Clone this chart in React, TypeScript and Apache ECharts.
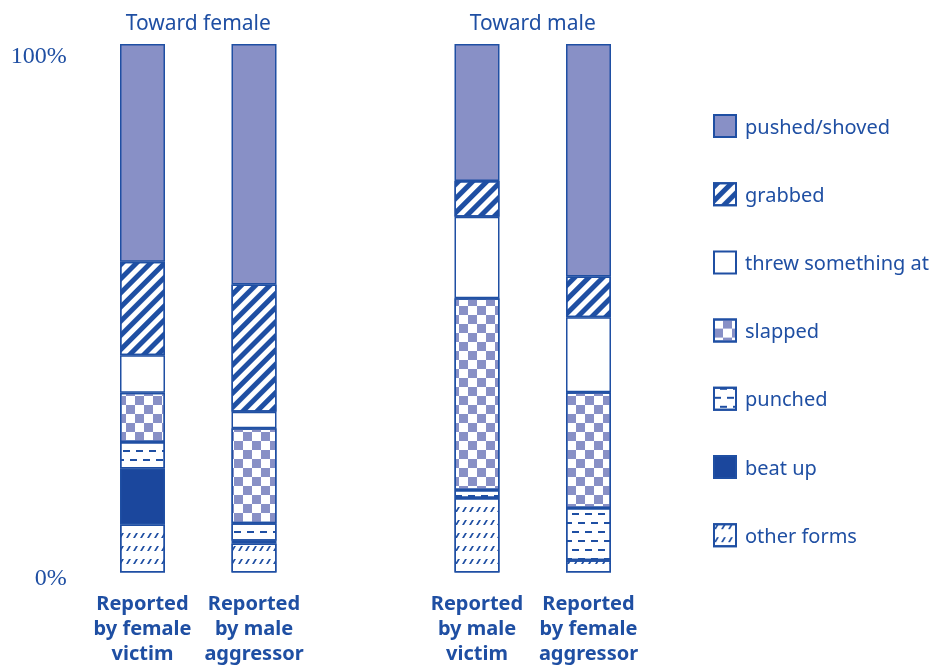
import React, { useEffect, useRef } from 'react';
import * as echarts from 'echarts';

const categories = [
  'Reported\nby female\nvictim',
  'Reported\nby male\naggressor',
  '',
  'Reported\nby male\nvictim',
  'Reported\nby female\naggressor',
];
const groupTitles = ['Toward female', 'Toward male'];
const legendNames = ['pushed/shoved', 'grabbed', 'threw something at', 'slapped', 'punched', 'beat up', 'other forms'];

// values in % (bottom to top stacking order is the reverse of legend order)
const pushed = [41.2, 45.5, null, 25.9, 44.0];
const grabbed = [17.7, 24.1, null, 6.8, 7.7];
const threw = [7.1, 3.1, null, 15.4, 14.2];
const slapped = [9.3, 18.0, null, 36.3, 21.9];
const punched = [5.0, 3.3, null, 1.5, 9.9];
const beatUp = [10.6, 0.5, null, null, null];
const otherForms = [9.1, 5.5, null, 14.1, 2.3];

const yTicks = [0, 100];
const yTickLabels = ['0%', '100%'];

const BLUE = '#1f4fa3';
const DARK = '#1b479d';
const LAV = '#8890c6';
const WHITE = '#ffffff';
const SANS = '"Noto Sans", "Open Sans", sans-serif';

export default function App() {
  const ref = useRef<HTMLDivElement>(null);
  useEffect(() => {
    if (!ref.current) return;
    const chart = echarts.init(ref.current, undefined, { renderer: 'svg' });
    const base = {
      type: 'bar',
      stack: 'total',
      barWidth: 45,
    };
    const border = { borderColor: BLUE, borderWidth: 1.5 };
    const series: any[] = [
      {
        ...base,
        name: 'other forms',
        data: otherForms,
        itemStyle: {
          ...border,
          color: WHITE,
          decal: {
            symbol: 'path://M0,4 L1.6,4 L4,0 L2.4,0 Z',
            symbolSize: 1,
            dashArrayX: [5, 1.5],
            dashArrayY: [5, 8],
            color: BLUE,
          },
        },
      },
      { ...base, name: 'beat up', data: beatUp, itemStyle: { ...border, color: DARK } },
      {
        ...base,
        name: 'punched',
        data: punched,
        itemStyle: {
          ...border,
          color: WHITE,
          decal: {
            symbol: 'rect',
            symbolSize: 1,
            dashArrayX: [[7, 6], [0, 6, 7, 0]],
            dashArrayY: [2, 6.5],
            color: BLUE,
          },
        },
      },
      {
        ...base,
        name: 'slapped',
        data: slapped,
        itemStyle: {
          ...border,
          color: WHITE,
          decal: {
            symbol: 'rect',
            symbolSize: 1,
            dashArrayX: [[9, 9], [0, 9, 9, 0]],
            dashArrayY: [9, 0],
            color: LAV,
          },
        },
      },
      { ...base, name: 'threw something at', data: threw, itemStyle: { ...border, color: WHITE } },
      {
        ...base,
        name: 'grabbed',
        data: grabbed,
        itemStyle: {
          ...border,
          color: WHITE,
          decal: {
            symbol: 'rect',
            symbolSize: 1,
            dashArrayX: [1, 0],
            dashArrayY: [5, 4.5],
            rotation: -Math.PI / 4,
            color: BLUE,
          },
        },
      },
      { ...base, name: 'pushed/shoved', data: pushed, itemStyle: { ...border, color: LAV } },
    ];

    chart.setOption({
      animation: false,
      grid: {
        left: 86.75,
        right: 297.75,
        top: 44,
        bottom: 94.5,
        containLabel: false,
        outerBoundsMode: 'none',
      },
      legend: {
        data: legendNames,
        orient: 'vertical',
        left: 708,
        top: 109,
        icon: 'rect',
        itemWidth: 22,
        itemHeight: 22,
        itemGap: 44.2,
        selectedMode: false,
        textStyle: {
          color: BLUE,
          fontFamily: SANS,
          fontSize: 20,
          lineHeight: 22,
          padding: [0, 0, 0, 4],
        },
      },
      xAxis: {
        type: 'category',
        data: categories,
        axisLine: { show: false },
        axisTick: { show: false },
        axisLabel: {
          interval: 0,
          margin: 17,
          color: BLUE,
          fontFamily: SANS,
          fontWeight: 'bold',
          fontSize: 20,
          lineHeight: 25,
          align: 'center',
        },
      },
      yAxis: {
        type: 'value',
        min: 0,
        max: 100,
        interval: 100,
        axisLine: { show: false },
        axisTick: { show: false },
        splitLine: { show: false },
        axisLabel: {
          margin: 20,
          formatter: (v: number) => {
            const idx = yTicks.indexOf(v);
            const label = idx >= 0 ? yTickLabels[idx] : '';
            return v === 100 ? '{t|' + label + '}' : '{b|' + label + '}';
          },
          rich: {
            t: {
              color: BLUE,
              fontFamily: '"Liberation Serif", "DejaVu Serif", serif',
              fontSize: 24,
              padding: [22, 0, 0, 0],
            },
            b: {
              color: BLUE,
              fontFamily: '"Liberation Serif", "DejaVu Serif", serif',
              fontSize: 24,
              padding: [8, 0, 0, 0],
            },
          },
        },
      },
      series,
    });

    const px = (i: number) => chart.convertToPixel({ xAxisIndex: 0 }, i) as number;
    const c1 = (px(0) + px(1)) / 2;
    const c2 = (px(3) + px(4)) / 2;
    chart.setOption({
      graphic: [
        {
          type: 'text',
          x: c1,
          y: 22,
          style: {
            text: groupTitles[0],
            fill: BLUE,
            font: '21px "Noto Sans", "Open Sans", sans-serif',
            align: 'center',
            verticalAlign: 'middle',
          },
        },
        {
          type: 'text',
          x: c2,
          y: 22,
          style: {
            text: groupTitles[1],
            fill: BLUE,
            font: '21px "Noto Sans", "Open Sans", sans-serif',
            align: 'center',
            verticalAlign: 'middle',
          },
        },
      ],
    });

    return () => chart.dispose();
  }, []);

  return (
    <div
      ref={ref}
      style={{ position: 'fixed', left: 0, top: 0, width: 942, height: 667, overflow: 'hidden' }}
    />
  );
}
